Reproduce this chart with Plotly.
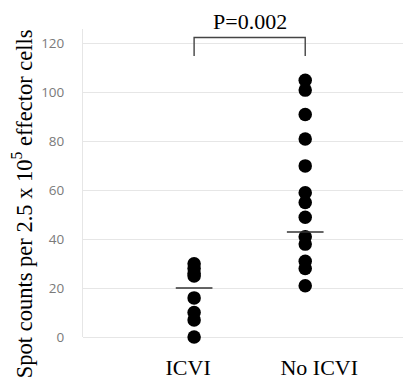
import plotly.graph_objects as go

categories = ["ICVI", "No ICVI"]
icvi_values = [0, 7, 10, 16, 25, 26, 28, 30]
no_icvi_values = [105, 101, 91, 81, 70, 59, 55, 49, 41, 38, 31, 28, 21]
mean_values = [20, 43]
p_label = "P=0.002"
y_title = "Spot counts per 2.5 x 10<sup>5</sup> effector cells"
y_ticks = [0, 20, 40, 60, 80, 100, 120]

idx = {c: i for i, c in enumerate(categories)}

fig = go.Figure()
fig.add_trace(go.Scatter(x=[idx[categories[0]]] * len(icvi_values), y=icvi_values, mode="markers",
                         marker=dict(size=13.5, color="black"), cliponaxis=False, showlegend=False,
                         name=categories[0]))
fig.add_trace(go.Scatter(x=[idx[categories[1]]] * len(no_icvi_values), y=no_icvi_values, mode="markers",
                         marker=dict(size=13.5, color="black"), cliponaxis=False, showlegend=False,
                         name=categories[1]))

# mean lines
for i, m in enumerate(mean_values):
    fig.add_shape(type="line", xref="x", yref="y", x0=i - 0.165, x1=i + 0.165, y0=m, y1=m,
                  line=dict(color="#333333", width=1.5))

# significance bracket
fig.add_trace(go.Scatter(x=[0, 0, 1, 1], y=[115, 122.5, 122.5, 115], mode="lines",
                         line=dict(color="#444444", width=1.4), showlegend=False, hoverinfo="skip"))
fig.add_annotation(x=0.5, y=1.0, xref="x", yref="paper", text=p_label, showarrow=False,
                   yanchor="bottom", yshift=-7,
                   font=dict(family="Liberation Serif", size=22, color="black"))

# y-axis title (placed as rotated annotation to match reference position)
fig.add_annotation(x=-0.19, y=0.432, xref="paper", yref="paper", text=y_title, showarrow=False,
                   textangle=-90, xanchor="center", yanchor="middle",
                   font=dict(family="Liberation Serif", size=22.5, color="black"))

label_offsets = [-0.054, 0.126]
fig.update_layout(
    width=403, height=379,
    margin=dict(l=83, r=0, t=29, b=42),
    plot_bgcolor="white", paper_bgcolor="white",
    xaxis=dict(range=[-1.0, 1.88], showgrid=False, zeroline=False, showline=False,
               tickmode="array",
               tickvals=[i + o for i, o in zip(range(len(categories)), label_offsets)],
               ticktext=categories,
               ticks="", ticklabelstandoff=15, automargin=False,
               tickfont=dict(family="Liberation Serif", size=22, color="black")),
    yaxis=dict(range=[0, 126], tickvals=y_ticks, showgrid=True, gridcolor="#e6e6e6", gridwidth=1,
               zeroline=True, zerolinecolor="#e6e6e6", zerolinewidth=1,
               showline=True, linecolor="#e6e6e6", linewidth=1,
               ticks="", ticklabelstandoff=15, automargin=False,
               tickfont=dict(family="Open Sans", size=13.5, color="#7a7a7a")),
)
fig.write_html("out.html", config={"displayModeBar": False},
               post_script="document.body.style.margin='0';document.body.style.padding='0';")
